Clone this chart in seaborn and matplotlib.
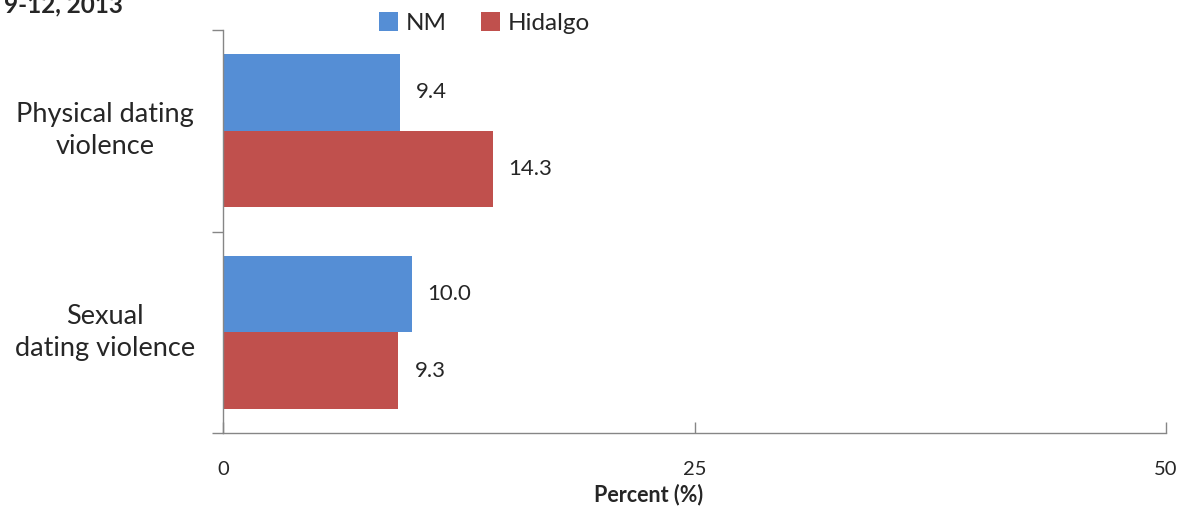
import matplotlib

matplotlib.use("Agg")
import matplotlib.pyplot as plt
import matplotlib.transforms as mtransforms
import pandas as pd
import seaborn as sns
from matplotlib.ticker import FixedLocator

categories = ["Physical dating\nviolence", "Sexual\ndating violence"]
groups = ["NM", "Hidalgo"]
nm_values = [9.4, 10.0]
hidalgo_values = [14.3, 9.3]
x_ticks = [0, 25, 50]
colors = {"NM": "#558ED5", "Hidalgo": "#C0504D"}

df = pd.DataFrame(
    {
        "category": categories * 2,
        "group": ["NM"] * len(categories) + ["Hidalgo"] * len(categories),
        "value": nm_values + hidalgo_values,
    }
)

sns.set_style("white")
plt.rcParams["font.family"] = ["Lato", "DejaVu Sans"]

fig = plt.figure(figsize=(11.87, 5.08), dpi=100)
ax = fig.add_axes([0.1879, 0.1476, 0.7944, 0.7933])

sns.barplot(
    data=df,
    x="value",
    y="category",
    hue="group",
    hue_order=groups,
    palette=colors,
    orient="h",
    width=0.76,
    saturation=1,
    linewidth=0,
    legend=True,
    ax=ax,
)

for container in ax.containers:
    ax.bar_label(container, labels=[f"{v:.1f}" for v in container.datavalues],
                 padding=11.5, fontsize=16)

ax.set_xlim(0, 50)
ax.set_ylim(1.5, -0.5)
ax.set_xticks(x_ticks)
ax.set_xticklabels([str(t) for t in x_ticks], fontsize=14.5)
ax.tick_params(axis="x", bottom=True, direction="in", length=8, pad=20,
               color="#868686", width=1)
ax.set_yticks(range(len(categories)))
ax.set_yticklabels(categories, fontsize=19.5, linespacing=1.34, ha="center")
ax.tick_params(axis="y", left=True, length=0, pad=85)
ax.yaxis.set_minor_locator(FixedLocator([-0.5, 0.5, 1.5]))
ax.tick_params(axis="y", which="minor", left=True, direction="out", length=8,
               color="#868686", width=1)
# nudge the two-line category labels up a little
shift = mtransforms.ScaledTranslation(0, 6 / 100, fig.dpi_scale_trans)
for lbl in ax.get_yticklabels():
    lbl.set_transform(lbl.get_transform() + shift)

ax.set_xlabel("Percent (%)", fontsize=15.5, fontweight="bold")
ax.xaxis.set_label_coords(0.451, -0.126)
ax.set_ylabel("")

for side in ["top", "right"]:
    ax.spines[side].set_visible(False)
for side in ["left", "bottom"]:
    ax.spines[side].set_color("#868686")
    ax.spines[side].set_linewidth(1)

handles, labels = ax.get_legend_handles_labels()
ax.get_legend().remove()
fig.legend(handles, labels, loc="center", bbox_to_anchor=(0.408, 0.955), ncol=2,
           frameon=False, fontsize=17.5, handlelength=0.8, handleheight=0.8,
           handletextpad=0.3, columnspacing=1.4)

fig.text(0.003, 1.012, "9-12, 2013", fontsize=17.5, fontweight="bold", va="top", ha="left")

fig.savefig("out.png", dpi=100)
